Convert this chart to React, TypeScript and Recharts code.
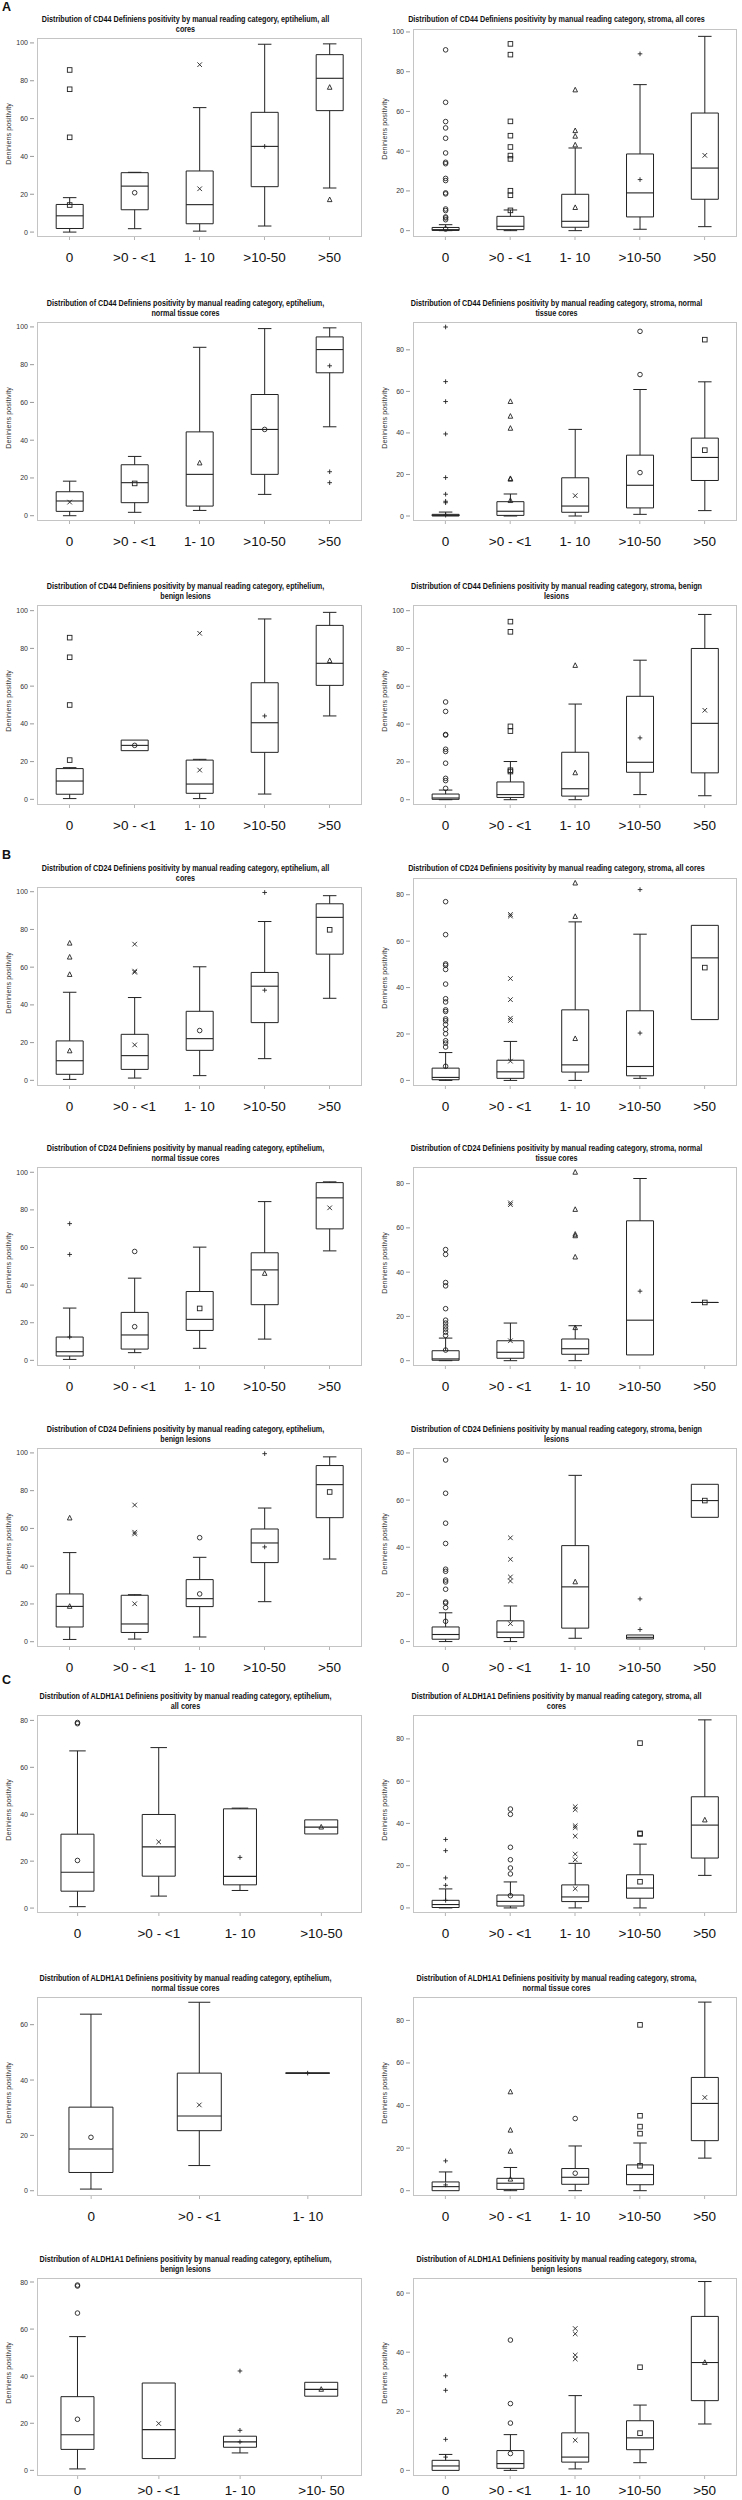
import React from 'react';
import { Bar, ComposedChart, XAxis, YAxis } from 'recharts';

// category labels
const cats5 = ['0', '>0 - <1', '1- 10', '>10-50', '>50'];
const cats4 = ['0', '>0 - <1', '1- 10', '>10-50'];
const cats4b = ['0', '>0 - <1', '1- 10', '>10- 50'];
const cats3 = ['0', '>0 - <1', '1- 10'];

const ticks100 = [0, 20, 40, 60, 80, 100];
const ticks80 = [0, 20, 40, 60, 80];
const ticks60 = [0, 20, 40, 60];

// box stats per category: [min, q1, median, q3, max, mean]
// ---- A: CD44 ----
const cd44EpiAllBoxes = [
  [0, 1.9, 8.6, 14.6, 18.2, 14.3],
  [1.8, 11.8, 24.3, 31.4, 31.6, 20.8],
  [0.5, 4.4, 14.5, 32.3, 65.8, 22.9],
  [3.2, 24, 45.3, 63.3, 99.3, 45.3],
  [23.3, 64.2, 81.3, 93.8, 99.5, 76.5],
];
const cd44EpiAllMarks = ['square', 'circle', 'x', 'plus', 'triangle'];
const cd44EpiAllOutliers = [[85.7, 75.5, 50.1], [], [88.5], [], [17.1]];

const cd44StromaAllBoxes = [
  [0, 0.1, 0.5, 1.6, 3.0, 0.8],
  [0, 0.5, 2.2, 7.2, 10.4, 10.2],
  [0, 1.7, 4.7, 18.3, 41.6, 11.6],
  [0.7, 6.9, 19, 38.6, 73.5, 25.7],
  [2, 15.8, 31.5, 59.2, 97.8, 37.9],
];
const cd44StromaAllMarks = ['circle', 'square', 'triangle', 'plus', 'x'];
const cd44StromaAllOutliers = [
  [91, 64.6, 54.9, 51.7, 46.5, 39.1, 34.4, 33.7, 26.3, 25.2, 19, 18.5, 10.9, 10.1, 6.9, 6.4, 5.5],
  [94, 88.6, 55, 47.8, 42.1, 37.8, 36.1, 20.1, 17.8],
  [70.8, 50.3, 47.5, 43.1],
  [89],
  [],
];

const cd44EpiNormalBoxes = [
  [0, 2.3, 7.8, 12.7, 18.3, 7.2],
  [1.8, 6.9, 17.5, 27, 31.4, 17.1],
  [2.8, 5.1, 21.9, 44.4, 89.2, 27.9],
  [11.3, 21.9, 45.7, 64.2, 99.1, 45.7],
  [47.1, 75.7, 88, 94.7, 99.5, 79.4],
];
const cd44EpiNormalMarks = ['x', 'square', 'triangle', 'circle', 'plus'];
const cd44EpiNormalOutliers = [[], [], [], [], [23.3, 17.5]];

const cd44StromaNormalBoxes = [
  [0, 0, 0.3, 0.8, 1.9, 0.4],
  [0, 0.3, 2.3, 6.9, 10.6, 7.4],
  [0, 1.8, 4.8, 18.4, 41.7, 9.8],
  [0.8, 3.9, 14.8, 29.3, 60.9, 20.9],
  [2.6, 17.1, 28.2, 37.5, 64.6, 31.7],
];
const cd44StromaNormalMarks = ['plus', 'triangle', 'x', 'circle', 'square'];
const cd44StromaNormalOutliers = [
  [91, 64.7, 55.1, 39.5, 18.5, 10.5, 7.1, 6.4],
  [55.1, 48, 42.2, 18, 17.7],
  [],
  [88.9, 68.1],
  [84.9],
];

const cd44EpiBenignBoxes = [
  [0.4, 2.7, 9.7, 16.3, 16.8, 20.8],
  [25.8, 25.8, 28.6, 31.4, 31.4, 28.6],
  [0.4, 3.2, 8.1, 20.8, 21.2, 15.5],
  [2.8, 24.9, 40.6, 61.8, 95.6, 44.2],
  [44.2, 60.4, 72.1, 92.2, 99.1, 73.5],
];
const cd44EpiBenignMarks = ['square', 'circle', 'x', 'plus', 'triangle'];
const cd44EpiBenignOutliers = [[85.7, 75.3, 50], [], [88], [], []];

const cd44StromaBenignBoxes = [
  [0, 0.2, 0.9, 3, 5.1, 6],
  [0, 1.2, 2.7, 9.4, 20.2, 14.9],
  [0, 1.9, 5.8, 25.1, 50.6, 14.2],
  [2.7, 14.5, 19.8, 54.7, 73.8, 32.7],
  [2.1, 14.2, 40.4, 80, 98, 47.3],
];
const cd44StromaBenignMarks = ['circle', 'square', 'triangle', 'plus', 'x'];
const cd44StromaBenignOutliers = [
  [51.7, 46.7, 34.5, 34.2, 26.7, 25.5, 19.3, 11.3, 10.1],
  [94.2, 88.8, 38.8, 36.3, 15.6],
  [71],
  [],
  [],
];

// ---- B: CD24 ----
const cd24EpiAllBoxes = [
  [0.5, 3.2, 10.4, 20.9, 46.7, 15.6],
  [1.2, 5.8, 13.1, 24.4, 43.9, 18.8],
  [2.5, 15.9, 22.1, 36.6, 60.2, 26.4],
  [11.5, 30.6, 49.9, 57.2, 84.2, 47.8],
  [43.5, 66.9, 86.4, 93.6, 97.9, 79.8],
];
const cd24EpiAllMarks = ['triangle', 'x', 'circle', 'plus', 'square'];
const cd24EpiAllOutliers = [[72.7, 65.3, 56.1], [72.2, 57.9, 57.3], [], [99.6], []];

const cd24StromaAllBoxes = [
  [0, 0.3, 1.3, 5.3, 12, 6.1],
  [0, 0.9, 3.7, 8.7, 16.8, 8.3],
  [0, 3.6, 6.7, 30.4, 68.3, 18],
  [0.9, 2, 6, 30, 63, 20.4],
  [26.2, 26.2, 52.8, 66.8, 66.8, 48.6],
];
const cd24StromaAllMarks = ['circle', 'x', 'triangle', 'plus', 'square'];
const cd24StromaAllOutliers = [
  [77, 62.8, 50.2, 49.6, 47.8, 41.5, 35.2, 33.8, 30.4, 29.7, 26.5, 25.7, 24.1, 22, 20.1, 17.1, 16.1, 14.4],
  [71.5, 70.8, 43.9, 34.8, 26.8, 25.8],
  [85, 70.6],
  [82.2],
  [],
];

const cd24EpiNormalBoxes = [
  [0.5, 2.3, 4.6, 12.4, 27.8, 12.4],
  [4.1, 6, 13.5, 25.5, 43.7, 17.9],
  [6.4, 15.9, 21.8, 36.6, 60.2, 27.6],
  [11.3, 29.6, 48.1, 57.2, 84.4, 46.2],
  [58.2, 69.9, 86.4, 94.5, 94.9, 81.1],
];
const cd24EpiNormalMarks = ['plus', 'circle', 'square', 'triangle', 'x'];
const cd24EpiNormalOutliers = [[72.7, 56.3], [57.9], [], [], []];

const cd24StromaNormalBoxes = [
  [0, 0.2, 0.8, 4.5, 10.2, 4.8],
  [0, 1.1, 3.8, 9, 17, 9],
  [0, 2.9, 5.4, 9.8, 15.8, 14.9],
  [2.6, 2.6, 18.3, 63.2, 82.3, 31.4],
  [26.3, 26.3, 26.3, 26.3, 26.3, 26.3],
];
const cd24StromaNormalMarks = ['circle', 'x', 'triangle', 'plus', 'square'];
const cd24StromaNormalOutliers = [
  [50.2, 48, 35.3, 33.8, 23.5, 18.3, 17, 15.6, 14.3, 12.9, 11.4],
  [71.3, 70.5],
  [85.1, 68.3, 57.1, 56.4, 46.8],
  [],
  [],
];

const cd24EpiBenignBoxes = [
  [1.2, 7.8, 18.7, 25.3, 47.2, 18.7],
  [1.4, 4.9, 9.4, 24.6, 24.9, 20.1],
  [2.5, 18.6, 22.8, 32.9, 44.7, 25.3],
  [21.2, 41.9, 52.3, 59.7, 70.8, 50.2],
  [43.8, 65.7, 83.2, 93.3, 97.9, 79.3],
];
const cd24EpiBenignMarks = ['triangle', 'x', 'circle', 'plus', 'square'];
const cd24EpiBenignOutliers = [[65.5], [72.4, 58, 57.1], [55.1], [99.6], []];

const cd24StromaBenignBoxes = [
  [0, 1, 3, 6.2, 12.2, 8.6],
  [0, 1.7, 4, 8.8, 15.1, 7.6],
  [1.4, 5.7, 23.2, 40.7, 70.5, 25.3],
  [1.1, 1.1, 1.8, 2.8, 2.8, 5.1],
  [52.7, 52.7, 59.8, 66.7, 66.7, 59.8],
];
const cd24StromaBenignMarks = ['circle', 'x', 'triangle', 'plus', 'square'];
const cd24StromaBenignOutliers = [
  [77, 62.9, 50.2, 41.6, 30.7, 29.8, 26.1, 25.3, 22.2, 16.8, 16.3, 14.4],
  [44, 34.9, 27.4, 25.7],
  [],
  [18.1],
  [],
];

// ---- C: ALDH1A1 ----
const aldhEpiAllBoxes = [
  [0.6, 7.2, 15.3, 31.5, 67, 20.3],
  [5.1, 13.6, 26.1, 39.9, 68.4, 28.2],
  [7.5, 9.9, 13.5, 42.3, 42.6, 21.6],
  [31.6, 31.6, 34.5, 37.6, 37.6, 34.5],
];
const aldhEpiAllMarks = ['circle', 'x', 'plus', 'triangle'];
const aldhEpiAllOutliers = [[79.1, 78.6], [], [], []];

const aldhStromaAllBoxes = [
  [0, 0.2, 1.6, 3.6, 9, 3.6],
  [0, 0.9, 3.1, 6.1, 12.3, 5.8],
  [0, 3, 5.2, 10.9, 21.1, 9.1],
  [0, 4.6, 9.4, 15.7, 30.2, 12.4],
  [15.4, 23.6, 39.2, 52.6, 89, 41.6],
];
const aldhStromaAllMarks = ['plus', 'circle', 'x', 'square', 'triangle'];
const aldhStromaAllOutliers = [
  [32.4, 27.1, 14.2, 10.7],
  [46.8, 44.3, 28.7, 22.8, 18.9, 16.1],
  [47.9, 46.5, 38.9, 38, 34, 25.5, 22.8],
  [78, 35.3, 35],
  [],
];

const aldhEpiNormalBoxes = [
  [0.6, 6.6, 15.1, 30.2, 63.8, 19.3],
  [9.1, 21.7, 27, 42.5, 68.1, 31],
  [42.5, 42.5, 42.5, 42.5, 42.5, 42.5],
];
const aldhEpiNormalMarks = ['circle', 'x', 'plus'];
const aldhEpiNormalOutliers = [[], [], []];

const aldhStromaNormalBoxes = [
  [0, 0, 1.9, 4.1, 8.8, 2.7],
  [0, 0.6, 3.5, 5.8, 10.9, 5.4],
  [0, 3, 6.3, 10.4, 21, 8.2],
  [0, 2.8, 7.6, 12.1, 22.4, 11.7],
  [15.3, 23.5, 41, 53.2, 88.6, 43.8],
];
const aldhStromaNormalMarks = ['plus', 'triangle', 'circle', 'square', 'x'];
const aldhStromaNormalOutliers = [[14], [46.4, 28.4, 18.5], [33.9], [77.9, 35.2, 30.1, 26.8], []];

const aldhEpiBenignBoxes = [
  [0.6, 8.9, 15.1, 31.3, 56.8, 21.7],
  [5, 5, 17.3, 37.1, 37.1, 19.9],
  [7.4, 9.8, 12.1, 14.5, 14.5, 12.1],
  [31.5, 31.5, 34.4, 37.4, 37.4, 34.4],
];
const aldhEpiBenignMarks = ['circle', 'x', 'plus', 'triangle'];
const aldhEpiBenignOutliers = [[78.7, 78.3, 66.8], [], [42.2, 17], []];

const aldhStromaBenignBoxes = [
  [0, 0, 1.5, 3.4, 5.4, 4.5],
  [0, 0.7, 2.3, 6.7, 12.1, 5.7],
  [0.5, 2.8, 4.5, 12.7, 25.3, 10.2],
  [2.6, 7, 11, 16.8, 22.1, 12.6],
  [15.7, 23.6, 36.5, 52.1, 63.9, 36.5],
];
const aldhStromaBenignMarks = ['plus', 'circle', 'x', 'square', 'triangle'];
const aldhStromaBenignOutliers = [[32, 27.1, 10.5], [44.1, 22.6, 16], [48, 46.2, 39, 37.7], [34.9], []];

const head = (marker: string, tail: string) =>
  `Distribution of ${marker} Definiens positivity by manual reading category, ${tail}`;

interface PanelDef {
  title: string[];
  cats: string[];
  boxes: number[][];
  marks: string[];
  outliers: number[][];
  ticks: number[];
  domain: [number, number];
}

const panels: PanelDef[] = [
  { title: [head('CD44', 'eptihelium, all'), 'cores'], cats: cats5, boxes: cd44EpiAllBoxes, marks: cd44EpiAllMarks, outliers: cd44EpiAllOutliers, ticks: ticks100, domain: [-2.6, 102.6] },
  { title: [head('CD44', 'stroma, all cores')], cats: cats5, boxes: cd44StromaAllBoxes, marks: cd44StromaAllMarks, outliers: cd44StromaAllOutliers, ticks: ticks100, domain: [-3.2, 101.5] },
  { title: [head('CD44', 'eptihelium,'), 'normal tissue cores'], cats: cats5, boxes: cd44EpiNormalBoxes, marks: cd44EpiNormalMarks, outliers: cd44EpiNormalOutliers, ticks: ticks100, domain: [-2.8, 102.6] },
  { title: [head('CD44', 'stroma, normal'), 'tissue cores'], cats: cats5, boxes: cd44StromaNormalBoxes, marks: cd44StromaNormalMarks, outliers: cd44StromaNormalOutliers, ticks: ticks80, domain: [-2.4, 93.4] },
  { title: [head('CD44', 'eptihelium,'), 'benign lesions'], cats: cats5, boxes: cd44EpiBenignBoxes, marks: cd44EpiBenignMarks, outliers: cd44EpiBenignOutliers, ticks: ticks100, domain: [-3, 103] },
  { title: [head('CD44', 'stroma, benign'), 'lesions'], cats: cats5, boxes: cd44StromaBenignBoxes, marks: cd44StromaBenignMarks, outliers: cd44StromaBenignOutliers, ticks: ticks100, domain: [-2.8, 103] },
  { title: [head('CD24', 'eptihelium, all'), 'cores'], cats: cats5, boxes: cd24EpiAllBoxes, marks: cd24EpiAllMarks, outliers: cd24EpiAllOutliers, ticks: ticks100, domain: [-3, 102.5] },
  { title: [head('CD24', 'stroma, all cores')], cats: cats5, boxes: cd24StromaAllBoxes, marks: cd24StromaAllMarks, outliers: cd24StromaAllOutliers, ticks: ticks80, domain: [-2.4, 87.2] },
  { title: [head('CD24', 'eptihelium,'), 'normal tissue cores'], cats: cats5, boxes: cd24EpiNormalBoxes, marks: cd24EpiNormalMarks, outliers: cd24EpiNormalOutliers, ticks: ticks100, domain: [-3, 102.8] },
  { title: [head('CD24', 'stroma, normal'), 'tissue cores'], cats: cats5, boxes: cd24StromaNormalBoxes, marks: cd24StromaNormalMarks, outliers: cd24StromaNormalOutliers, ticks: ticks80, domain: [-2.4, 87.5] },
  { title: [head('CD24', 'eptihelium,'), 'benign lesions'], cats: cats5, boxes: cd24EpiBenignBoxes, marks: cd24EpiBenignMarks, outliers: cd24EpiBenignOutliers, ticks: ticks100, domain: [-2.8, 102.6] },
  { title: [head('CD24', 'stroma, benign'), 'lesions'], cats: cats5, boxes: cd24StromaBenignBoxes, marks: cd24StromaBenignMarks, outliers: cd24StromaBenignOutliers, ticks: ticks80, domain: [-2.3, 82.1] },
  { title: [head('ALDH1A1', 'eptihelium,'), 'all cores'], cats: cats4, boxes: aldhEpiAllBoxes, marks: aldhEpiAllMarks, outliers: aldhEpiAllOutliers, ticks: ticks80, domain: [-2.1, 82.3] },
  { title: [head('ALDH1A1', 'stroma, all'), 'cores'], cats: cats5, boxes: aldhStromaAllBoxes, marks: aldhStromaAllMarks, outliers: aldhStromaAllOutliers, ticks: ticks80, domain: [-2.4, 91.3] },
  { title: [head('ALDH1A1', 'eptihelium,'), 'normal tissue cores'], cats: cats3, boxes: aldhEpiNormalBoxes, marks: aldhEpiNormalMarks, outliers: aldhEpiNormalOutliers, ticks: ticks60, domain: [-1.9, 70] },
  { title: [head('ALDH1A1', 'stroma,'), 'normal tissue cores'], cats: cats5, boxes: aldhStromaNormalBoxes, marks: aldhStromaNormalMarks, outliers: aldhStromaNormalOutliers, ticks: ticks80, domain: [-2.5, 91] },
  { title: [head('ALDH1A1', 'eptihelium,'), 'benign lesions'], cats: cats4b, boxes: aldhEpiBenignBoxes, marks: aldhEpiBenignMarks, outliers: aldhEpiBenignOutliers, ticks: ticks80, domain: [-2.4, 81.7] },
  { title: [head('ALDH1A1', 'stroma,'), 'benign lesions'], cats: cats5, boxes: aldhStromaBenignBoxes, marks: aldhStromaBenignMarks, outliers: aldhStromaBenignOutliers, ticks: ticks60, domain: [-1.9, 65.1] },
];

// frame top (two-line title) / frame bottom of each row, in page pixels
const rowFrameTop = [38, 322, 605, 887, 1167, 1448, 1715, 1997, 2278];
const rowFrameBottom = [237, 521, 805, 1086, 1366, 1647, 1913, 2196, 2476];

const INK = '#222';
const SANS = '"Liberation Sans", Arial, Helvetica, sans-serif';

function Symbol({ kind, cx, cy }: { kind: string; cx: number; cy: number }) {
  const s = 2.3;
  const common = { stroke: INK, strokeWidth: 0.9, fill: 'none' };
  if (kind === 'circle') return <circle cx={cx} cy={cy} r={s} {...common} />;
  if (kind === 'square') return <rect x={cx - s} y={cy - s} width={s * 2} height={s * 2} {...common} />;
  if (kind === 'triangle')
    return <path d={`M${cx},${cy - s - 0.4} L${cx + s},${cy + s - 0.4} L${cx - s},${cy + s - 0.4} Z`} {...common} />;
  if (kind === 'x')
    return <path d={`M${cx - s},${cy - s} L${cx + s},${cy + s} M${cx + s},${cy - s} L${cx - s},${cy + s}`} {...common} />;
  return <path d={`M${cx - s},${cy} L${cx + s},${cy} M${cx},${cy - s} L${cx},${cy + s}`} {...common} />;
}

function BoxShape(props: any) {
  const { x, y, width, height, payload } = props;
  if (!payload || height == null) return null;
  const [lo, hi] = payload.span;
  const bottom = y + height;
  const py = (v: number) => bottom - ((v - lo) / (hi - lo)) * height;
  const [mn, q1, md, q3, mx, mean] = payload.box;
  const cx = x + width / 2;
  const x1 = x;
  const x2 = x + width;
  const cap = width / 4;
  return (
    <g>
      {mx > q3 && (
        <path d={`M${cx},${py(q3)} V${py(mx)} M${cx - cap},${py(mx)} H${cx + cap}`} stroke={INK} strokeWidth={1} fill="none" />
      )}
      {mn < q1 && (
        <path d={`M${cx},${py(q1)} V${py(mn)} M${cx - cap},${py(mn)} H${cx + cap}`} stroke={INK} strokeWidth={1} fill="none" />
      )}
      <path d={`M${x1},${py(q3)} H${x2} V${py(q1)} H${x1} Z`} stroke={INK} strokeWidth={1} fill="none" />
      <path d={`M${x1},${py(md)} H${x2}`} stroke={INK} strokeWidth={1.1} />
      <Symbol kind={payload.mark} cx={cx} cy={py(mean)} />
      {payload.out.map((v: number, i: number) => (
        <Symbol key={i} kind={payload.mark} cx={cx} cy={py(v)} />
      ))}
    </g>
  );
}

function XTick(props: any) {
  const { x, y, payload, labelOffset } = props;
  return (
    <g>
      <line x1={x} x2={x} y1={y} y2={y + 3} stroke="#b5b5b5" />
      <text x={x} y={y + labelOffset} textAnchor="middle" fontSize={13.5} fill="#111" fontFamily={SANS}>
        {payload.value}
      </text>
    </g>
  );
}

function YTick(props: any) {
  const { x, y, payload } = props;
  return (
    <g>
      <line x1={x - 7} x2={x - 3} y1={y} y2={y} stroke="#999" />
      <text x={x - 9} y={y + 2.5} textAnchor="end" fontSize={7} fill="#333" fontFamily={SANS}>
        {payload.value}
      </text>
    </g>
  );
}

function BoxPanel({ panel, row, col }: { panel: PanelDef; row: number; col: number }) {
  const frameTop = rowFrameTop[row];
  const frameBottom = rowFrameBottom[row];
  const top = frameTop - 25;
  const plotTop = panel.title.length === 1 ? frameTop - 9 : frameTop;
  const plotLeft = col === 0 ? 37 : 42;
  const plotRight = col === 0 ? 362 : 366;
  const isLastRow = row === rowFrameTop.length - 1;
  const axisH = isLastRow ? 2500 - frameBottom : 38;
  const labelOffset = isLastRow ? 19 : 25;
  const chartH = frameBottom - top + axisH;
  const hiTick = panel.ticks[panel.ticks.length - 1];

  const data = panel.cats.map((cat, i) => ({
    cat,
    span: [0, hiTick],
    box: panel.boxes[i],
    mark: panel.marks[i],
    out: panel.outliers[i],
  }));

  return (
    <div style={{ position: 'absolute', left: col * 371, top, width: 371, height: chartH }}>
      {panel.title.map((line, i) => (
        <div
          key={i}
          style={{
            position: 'absolute',
            left: -40,
            width: 451,
            top: 1 + i * 10,
            height: 10,
            lineHeight: '10px',
            textAlign: 'center',
            whiteSpace: 'nowrap',
            fontFamily: SANS,
            fontWeight: 'bold',
            fontSize: 8.6,
            color: '#111',
            transform: 'scaleX(0.84)',
          }}
        >
          {line}
        </div>
      ))}
      <div
        style={{
          position: 'absolute',
          left: plotLeft - 29,
          top: (plotTop - top + (frameBottom - top)) / 2 - 4,
          transform: 'translate(-50%, -50%) rotate(-90deg)',
          whiteSpace: 'nowrap',
          fontFamily: SANS,
          fontSize: 7.2,
          color: '#333',
        }}
      >
        Deniniens positivity
      </div>
      <ComposedChart
        width={371}
        height={chartH}
        data={data}
        margin={{ top: plotTop - top, right: 371 - plotRight, bottom: 0, left: 0 }}
        barCategoryGap="29.5%"
      >
        <XAxis
          dataKey="cat"
          height={axisH}
          axisLine={false}
          tickLine={false}
          tickSize={0}
          tickMargin={0}
          interval={0}
          tick={(p: any) => <XTick {...p} labelOffset={labelOffset} />}
        />
        <YAxis
          width={plotLeft}
          domain={panel.domain}
          ticks={panel.ticks}
          allowDataOverflow
          axisLine={false}
          tickLine={false}
          tickSize={0}
          tickMargin={0}
          interval={0}
          tick={(p: any) => <YTick {...p} />}
        />
        <Bar dataKey="span" isAnimationActive={false} shape={(p: any) => <BoxShape {...p} />} />
      </ComposedChart>
      <div
        style={{
          position: 'absolute',
          left: plotLeft,
          top: plotTop - top,
          width: plotRight - plotLeft,
          height: frameBottom - plotTop,
          border: '1px solid #c4c4c4',
          boxSizing: 'border-box',
          pointerEvents: 'none',
        }}
      />
    </div>
  );
}

const sectionLabels = [
  { text: 'A', top: 0 },
  { text: 'B', top: 848 },
  { text: 'C', top: 1673 },
];

export default function App() {
  return (
    <div style={{ position: 'absolute', left: 0, top: 0, width: 742, height: 2500, background: '#fff', overflow: 'hidden' }}>
      {sectionLabels.map((s) => (
        <div
          key={s.text}
          style={{ position: 'absolute', left: 2, top: s.top, fontFamily: SANS, fontWeight: 'bold', fontSize: 12.5, color: '#111' }}
        >
          {s.text}
        </div>
      ))}
      {panels.map((p, i) => (
        <BoxPanel key={i} panel={p} row={Math.floor(i / 2)} col={i % 2} />
      ))}
    </div>
  );
}
